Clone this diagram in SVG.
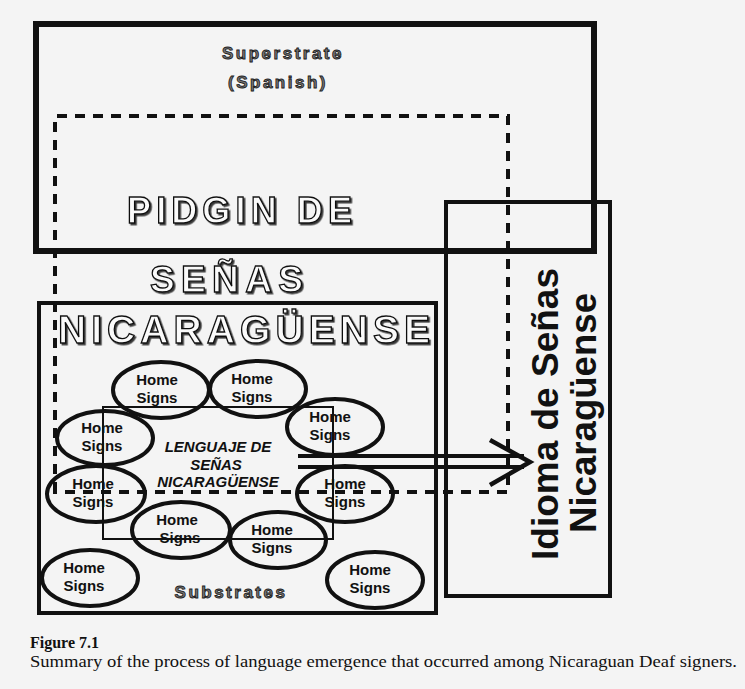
<svg xmlns="http://www.w3.org/2000/svg" width="745" height="689" viewBox="0 0 745 689">
<defs>
<filter id="sh" x="-5%" y="-20%" width="110%" height="140%">
<feDropShadow dx="1.6" dy="1.6" stdDeviation="0.3" flood-color="#222" flood-opacity="0.9"/>
</filter>
</defs>
<style>
.box{fill:none;stroke:#111}
.dash{fill:none;stroke:#111;stroke-width:4;stroke-dasharray:10 8}
.ell{fill:none;stroke:#111;stroke-width:4}
.hs{font-family:"Liberation Sans",Arial,sans-serif;font-weight:bold;font-size:15px;fill:#111;text-anchor:middle}
.out{font-family:"Liberation Sans",Arial,sans-serif;font-weight:bold;fill:#fafafa;stroke:#111;stroke-width:1.3;filter:url(#sh)}
.sm{font-family:"Liberation Sans",Arial,sans-serif;font-weight:bold;font-size:17px;fill:#777;stroke:#222;stroke-width:0.9;text-anchor:middle;letter-spacing:2.5px}
.lsn{font-family:"Liberation Sans",Arial,sans-serif;font-weight:bold;font-style:italic;font-size:15px;fill:#111;text-anchor:middle}
.idi{font-family:"Liberation Sans",Arial,sans-serif;font-weight:bold;font-size:36px;fill:#111;text-anchor:middle}
.cap{font-family:"Liberation Serif","Times New Roman",serif;fill:#111}
</style>
<rect x="0" y="0" width="745" height="689" fill="#f4f4f4"/>

<g id="superstrate">
<rect class="box" x="36" y="24" width="558" height="227" stroke-width="6"/>
<text class="sm" x="283" y="59">Superstrate</text>
<text class="sm" x="278" y="88">(Spanish)</text>
</g>

<g id="pidgin">
<path class="dash" d="M55,492 V116 H508 V492 Z"/>
<text class="out" x="127" y="223" font-size="36" textLength="225" lengthAdjust="spacing">PIDGIN DE</text>
<text class="out" x="150" y="292" font-size="37" textLength="153" lengthAdjust="spacing">SEÑAS</text>
</g>

<g id="substrates">
<rect class="box" x="39" y="303" width="397" height="310" stroke-width="4"/>
<text class="out" x="58" y="343" font-size="39" textLength="372" lengthAdjust="spacing">NICARAGÜENSE</text>
<text class="sm" x="231" y="598">Substrates</text>
</g>

<g id="lsn">
<rect class="box" x="103" y="407" width="230" height="132" stroke-width="2"/>
<text class="lsn" x="218" y="452">LENGUAJE DE</text>
<text class="lsn" x="216" y="470">SEÑAS</text>
<text class="lsn" x="218" y="487">NICARAGÜENSE</text>
</g>

<g id="hs1"><ellipse class="ell" cx="161" cy="390" rx="48" ry="28"/><text class="hs" x="157" y="385">Home</text><text class="hs" x="157" y="403">Signs</text></g>
<g id="hs2"><ellipse class="ell" cx="258" cy="389" rx="48" ry="28"/><text class="hs" x="252" y="384">Home</text><text class="hs" x="252" y="402">Signs</text></g>
<g id="hs3"><ellipse class="ell" cx="335" cy="427" rx="48" ry="28"/><text class="hs" x="330" y="422">Home</text><text class="hs" x="330" y="440">Signs</text></g>
<g id="hs4"><ellipse class="ell" cx="105" cy="438" rx="48" ry="27"/><text class="hs" x="102" y="433">Home</text><text class="hs" x="102" y="451">Signs</text></g>
<g id="hs5"><ellipse class="ell" cx="96" cy="494" rx="49" ry="28"/><text class="hs" x="93" y="489">Home</text><text class="hs" x="93" y="507">Signs</text></g>
<g id="hs6"><ellipse class="ell" cx="345" cy="494" rx="48" ry="28"/><text class="hs" x="345" y="489">Home</text><text class="hs" x="345" y="507">Signs</text></g>
<g id="hs7"><ellipse class="ell" cx="181" cy="530" rx="49" ry="28"/><text class="hs" x="177" y="525">Home</text><text class="hs" x="180" y="543">Signs</text></g>
<g id="hs8"><ellipse class="ell" cx="278" cy="540" rx="48" ry="28"/><text class="hs" x="272" y="535">Home</text><text class="hs" x="272" y="553">Signs</text></g>
<g id="hs9"><ellipse class="ell" cx="90" cy="578" rx="48" ry="28"/><text class="hs" x="84" y="573">Home</text><text class="hs" x="84" y="591">Signs</text></g>
<g id="hs10"><ellipse class="ell" cx="375" cy="580" rx="48" ry="28"/><text class="hs" x="370" y="575">Home</text><text class="hs" x="370" y="593">Signs</text></g>

<g id="idioma">
<rect class="box" x="446" y="202" width="164" height="394" stroke-width="4"/>
<text class="idi" transform="translate(558,414) rotate(-90)" textLength="292" lengthAdjust="spacingAndGlyphs">Idioma de Señas</text>
<text class="idi" transform="translate(596,413) rotate(-90)" textLength="240" lengthAdjust="spacingAndGlyphs">Nicaragüense</text>
</g>

<g id="connectors">
<path d="M298,456 H524 M298,467 H524" fill="none" stroke="#111" stroke-width="4"/>
<path d="M490,440 L530,462 L490,485" fill="none" stroke="#111" stroke-width="4.5" stroke-linejoin="miter"/>
</g>

<g id="caption">
<text class="cap" x="30" y="648" font-size="16" font-weight="bold">Figure 7.1</text>
<text class="cap" x="30" y="667" font-size="16" textLength="707" lengthAdjust="spacingAndGlyphs">Summary of the process of language emergence that occurred among Nicaraguan Deaf signers.</text>
</g>
</svg>
